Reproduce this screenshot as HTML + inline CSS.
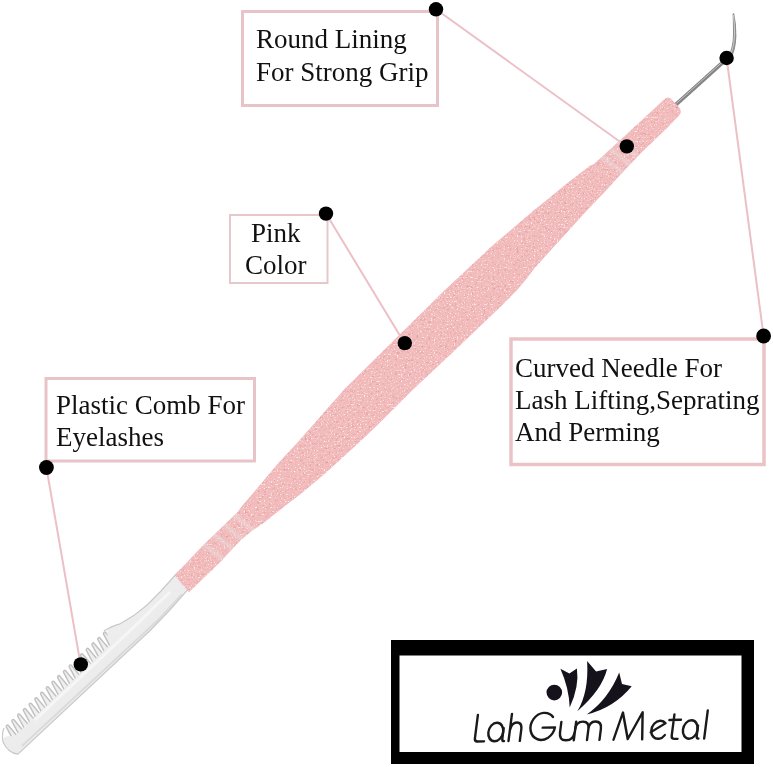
<!DOCTYPE html>
<html><head><meta charset="utf-8">
<style>
html,body{margin:0;padding:0;background:#fff;}
body{width:773px;height:767px;overflow:hidden;position:relative;}
svg{position:absolute;left:0;top:0;will-change:transform;}
.t{font-family:"Liberation Serif",serif;font-size:27px;fill:#111;}
</style></head><body>
<svg width="773" height="767" viewBox="0 0 773 767">
<defs>
<filter id="glit" x="0" y="0" width="100%" height="100%" color-interpolation-filters="sRGB">
  <feTurbulence type="fractalNoise" baseFrequency="0.42" numOctaves="2" seed="11" result="n"/>
  <feTurbulence type="fractalNoise" baseFrequency="0.7" numOctaves="1" seed="5" result="n2"/>
  <feColorMatrix in="n2" type="matrix" values="0 0 0 0 1  0 0 0 0 0.94  0 0 0 0 0.94  6 0 0 0 -3.55" result="lt"/>
  <feColorMatrix in="n" type="matrix" values="0 0 0 0 0.87  0 0 0 0 0.60  0 0 0 0 0.62  -3.0 0 0 0 1.3" result="dk"/>
  <feComposite in="lt" in2="SourceGraphic" operator="in" result="ltc"/>
  <feComposite in="dk" in2="SourceGraphic" operator="in" result="dkc"/>
  <feMerge><feMergeNode in="SourceGraphic"/><feMergeNode in="dkc"/><feMergeNode in="ltc"/></feMerge>
</filter>
<filter id="bblur" x="-20%" y="-20%" width="140%" height="140%"><feGaussianBlur stdDeviation="1.1"/></filter>
<linearGradient id="stemg" x1="0" y1="0" x2="1" y2="1">
  <stop offset="0" stop-color="#f5f5f5"/><stop offset="1" stop-color="#e4e4e4"/>
</linearGradient>
</defs>

<!-- boxes -->
<rect x="242.5" y="11.5" width="195" height="94" fill="none" stroke="#e8c3c7" stroke-width="3"/>
<rect x="230" y="215" width="97.5" height="68" fill="none" stroke="#e6c8cc" stroke-width="2"/>
<rect x="46" y="378.5" width="208.5" height="82.5" fill="none" stroke="#e8c3c7" stroke-width="3"/>
<rect x="511" y="339" width="253" height="125.5" fill="none" stroke="#ebc3c7" stroke-width="3.5"/>

<!-- text -->
<text class="t" x="256" y="48">Round Lining</text>
<text class="t" x="256" y="81">For Strong Grip</text>
<text class="t" x="251" y="242">Pink</text>
<text class="t" x="245" y="274">Color</text>
<text class="t" x="56" y="414">Plastic Comb For</text>
<text class="t" x="56" y="446">Eyelashes</text>
<text class="t" x="515" y="377">Curved Needle For</text>
<text class="t" x="515" y="409">Lash Lifting,Seprating</text>
<text class="t" x="515" y="441">And Perming</text>

<!-- needle -->
<path d="M676 104.5 L726 59.5" fill="none" stroke="#858585" stroke-width="3.8" stroke-linecap="round"/>
<path d="M676.5 103.3 L725 59.6" fill="none" stroke="#c4c4c4" stroke-width="1"/>
<path d="M728.5 56 Q733 46 733 34 Q733 22 732.6 13.5 Q733.6 12.8 734.2 13.6 Q736.6 24 736.4 36 Q736 50 731 58.5 Z" fill="#8e8e8e"/>
<path d="M731 54 Q734.4 45 734.6 34 Q734.6 24 733.4 15" fill="none" stroke="#d2d2d2" stroke-width="0.9"/>
<!-- comb -->
<path d="M13.6 740.7 L6.3 727.0 A1.30 1.56 0 0 1 8.4 725.5 L18.4 737.5 M19.4 735.2 L12.0 721.5 A1.30 1.56 0 0 1 14.2 720.0 L24.2 732.0 M25.1 729.8 L17.7 716.0 A1.30 1.56 0 0 1 19.9 714.5 L29.9 726.5 M30.8 724.3 L23.4 710.5 A1.30 1.56 0 0 1 25.6 709.1 L35.6 721.0 M36.5 718.8 L29.2 705.1 A1.30 1.56 0 0 1 31.3 703.6 L41.3 715.6 M42.2 713.3 L34.9 699.6 A1.30 1.56 0 0 1 37.0 698.1 L47.0 710.1 M47.9 707.9 L40.6 694.1 A1.30 1.56 0 0 1 42.7 692.6 L52.8 704.6 M53.7 702.4 L46.3 688.6 A1.30 1.56 0 0 1 48.5 687.2 L58.5 699.1 M59.4 696.9 L52.0 683.1 A1.30 1.56 0 0 1 54.2 681.7 L64.2 693.7 M65.1 691.4 L57.7 677.7 A1.30 1.56 0 0 1 59.9 676.2 L69.9 688.2 M70.8 686.0 L63.5 672.2 A1.30 1.56 0 0 1 65.6 670.7 L75.6 682.7 M76.5 680.5 L69.2 666.7 A1.30 1.56 0 0 1 71.3 665.3 L81.3 677.2 M82.2 675.0 L74.9 661.2 A1.30 1.56 0 0 1 77.1 659.8 L87.1 671.8 M88.0 669.5 L80.6 655.8 A1.30 1.56 0 0 1 82.8 654.3 L92.8 666.3 M93.7 664.0 L86.3 650.3 A1.30 1.56 0 0 1 88.5 648.8 L98.5 660.8 M99.4 658.6 L92.0 644.8 A1.30 1.56 0 0 1 94.2 643.4 L104.2 655.3 M105.1 653.1 L97.8 639.3 A1.30 1.56 0 0 1 99.9 637.9 L109.9 649.8 M110.8 647.6 L103.5 633.9 A1.30 1.56 0 0 1 105.6 632.4 L115.6 644.4" fill="#efefef" stroke="#c2c2c2" stroke-width="1.5"/>
<path d="M178 572 L161 591 L147.4 604.7 L133.7 615.6 Q127 620 120 623.8 Q111 626.3 107.5 629.5 L107.4 637.3 L111.6 643.5 L14.4 736.6 Q1.5 734 3 742 Q8 753 17.9 754.2 L150.6 630 L169.8 610 L187.6 590 L190 585 Z" fill="url(#stemg)"/>
<path d="M182 594 L158 620 L22 746" fill="none" stroke="#d6d6d6" stroke-width="1.8" opacity="0.8"/>
<path d="M170 592 Q150 611 135 626 L35 720" fill="none" stroke="#f9f9f9" stroke-width="3" opacity="0.7"/>
<path d="M190 585 L187.6 590 L169.8 610 L150.6 630 L17.9 754.2 Q8 753 3 742 Q1.5 734 4 728 M104 631 Q110 626.6 120 623.8 Q127 620 133.7 615.6 L147.4 604.7 L161 591 L178 572" fill="none" stroke="#c9c9c9" stroke-width="1.2"/>
<!-- handle -->
<clipPath id="hclip"><path d="M174.6 575.3 L203.6 544.8 L238.2 511.6 L240.4 508.1 L258.6 486.6 L278.0 463.5 L298.4 441.4 L344.8 388.8 L416.0 318.6 L444.4 290.4 L492.0 246.1 L533.9 210.3 L551.1 196.4 L563.4 186.2 L590.5 165.2 L593.7 164.2 L628.5 132.6 L663.6 99.9 Q667.6 95.4 671.1 99.0 L678.0 106.1 Q683.2 111.5 678.9 115.7 L667.1 127.9 L640.5 153.6 L615.7 179.8 L605.6 190.9 L586.9 210.4 L554.6 246.0 L534.4 268.3 L527.2 278.1 L517.5 289.6 L497.7 309.5 L450.7 354.3 L414.1 388.4 L378.8 423.8 L360.0 441.8 L323.7 474.7 L300.6 494.0 L281.4 508.7 L264.9 521.9 L252.4 530.5 L240.8 540.0 L230.5 551.1 L220.3 562.1 L189.0 592.3 Z"/></clipPath>
<path d="M174.6 575.3 L203.6 544.8 L238.2 511.6 L240.4 508.1 L258.6 486.6 L278.0 463.5 L298.4 441.4 L344.8 388.8 L416.0 318.6 L444.4 290.4 L492.0 246.1 L533.9 210.3 L551.1 196.4 L563.4 186.2 L590.5 165.2 L593.7 164.2 L628.5 132.6 L663.6 99.9 Q667.6 95.4 671.1 99.0 L678.0 106.1 Q683.2 111.5 678.9 115.7 L667.1 127.9 L640.5 153.6 L615.7 179.8 L605.6 190.9 L586.9 210.4 L554.6 246.0 L534.4 268.3 L527.2 278.1 L517.5 289.6 L497.7 309.5 L450.7 354.3 L414.1 388.4 L378.8 423.8 L360.0 441.8 L323.7 474.7 L300.6 494.0 L281.4 508.7 L264.9 521.9 L252.4 530.5 L240.8 540.0 L230.5 551.1 L220.3 562.1 L189.0 592.3 Z" fill="#f2bbbc" filter="url(#glit)"/>
<g clip-path="url(#hclip)"><path d="M188.4 532.0 L235.9 569.5 M198.5 522.3 L246.0 559.8 M208.5 512.5 L256.0 550.0 M218.6 502.8 L266.1 540.3 M587.6 145.0 L635.1 182.5 M595.5 137.4 L643.0 174.9 M603.4 129.7 L650.9 167.2" stroke="#eadbdb" stroke-width="4.5" opacity="0.55" fill="none" filter="url(#bblur)"/></g>

<!-- lines -->
<g stroke="#ebc0c7" stroke-width="2" fill="none">
<line x1="436" y1="9.3" x2="626.6" y2="146.5"/>
<line x1="326" y1="213.6" x2="404.6" y2="343.2"/>
<line x1="726.6" y1="58" x2="763.6" y2="336"/>
<line x1="46.4" y1="467.5" x2="80.6" y2="664.6"/>
</g>
<g fill="#000">
<circle cx="436" cy="9.3" r="7.2"/>
<circle cx="626.8" cy="146.4" r="7.2"/>
<circle cx="326" cy="213.6" r="7.2"/>
<circle cx="404.8" cy="343.1" r="7.2"/>
<circle cx="726.6" cy="58" r="7.2"/>
<circle cx="763.6" cy="336" r="7.4"/>
<circle cx="46.4" cy="467.5" r="7.4"/>
<circle cx="80.8" cy="664.4" r="7.2"/>
</g>

<!-- logo box -->
<path d="M391 640 H754 V764 H391 Z M399.5 655.5 V752 H741.5 V655.5 Z" fill="#000" fill-rule="evenodd"/>
<!-- logo mark -->
<g fill="#16121c">
<circle cx="554.3" cy="692.6" r="7.8"/>
<path d="M560.4 668.8 L569.4 673.4 L576.9 668.4 Q579.5 686 569.7 707.5 Q569 688 560.4 668.8 Z"/>
<path d="M587.1 660.9 L596.1 671.4 L607.1 669.1 Q602 690 577.3 711.3 Q589 692 587.1 660.9 Z"/>
<path d="M619.2 672.6 L622 684 L631.7 686.3 Q614 708 586.7 714.5 Q608 700 619.2 672.6 Z"/>
</g>
<!-- logo text -->
<g transform="rotate(-0.75 590 740)">
<g fill="none" stroke="#1a1a1a" stroke-width="2.4" stroke-linecap="round" stroke-linejoin="round" transform="translate(0 740) skewX(-8) translate(0 -740)">
<path d="M474.5 713.5 V737 Q474.5 740 477.5 740 H484"/>
<ellipse cx="494.6" cy="730.8" rx="7.4" ry="9.2"/>
<path d="M502 727 V737.5 Q502 740 504 740"/>
<path d="M508.5 713 V740 M508.7 728.5 Q509.5 721.5 514.5 721.5 Q519.8 721.5 519.8 728.5 V740"/>
<path d="M550 716.5 A12.3 13.5 0 1 0 553.3 727 H541"/>
<path d="M559 721.5 V732 Q559 740 566 740 Q573.5 740 573.5 732 M573.8 721.5 V740"/>
<path d="M573.8 729 Q573.8 721.5 580.5 721.5 Q587 721.5 587 729 V740 M587 729 Q587 721.5 593 721.5 Q599.5 721.5 599.5 729 V740"/>
<path d="M613.5 740 L619.5 713 L627.7 739.5 L639.2 713 L642.2 740"/>
<path d="M649.8 733 L663.5 724.3 A7.8 9 0 1 0 664.3 736"/>
<path d="M671.3 715.5 V736.5 Q671.3 740 675 740 H677.5 M667 721 H678.5"/>
<ellipse cx="689.1" cy="730.8" rx="7.3" ry="9.2"/>
<path d="M696.4 727 V737.5 Q696.4 740 698.4 740"/>
<path d="M704.2 712 V740"/>
</g>
</g>
</svg>
</body></html>
